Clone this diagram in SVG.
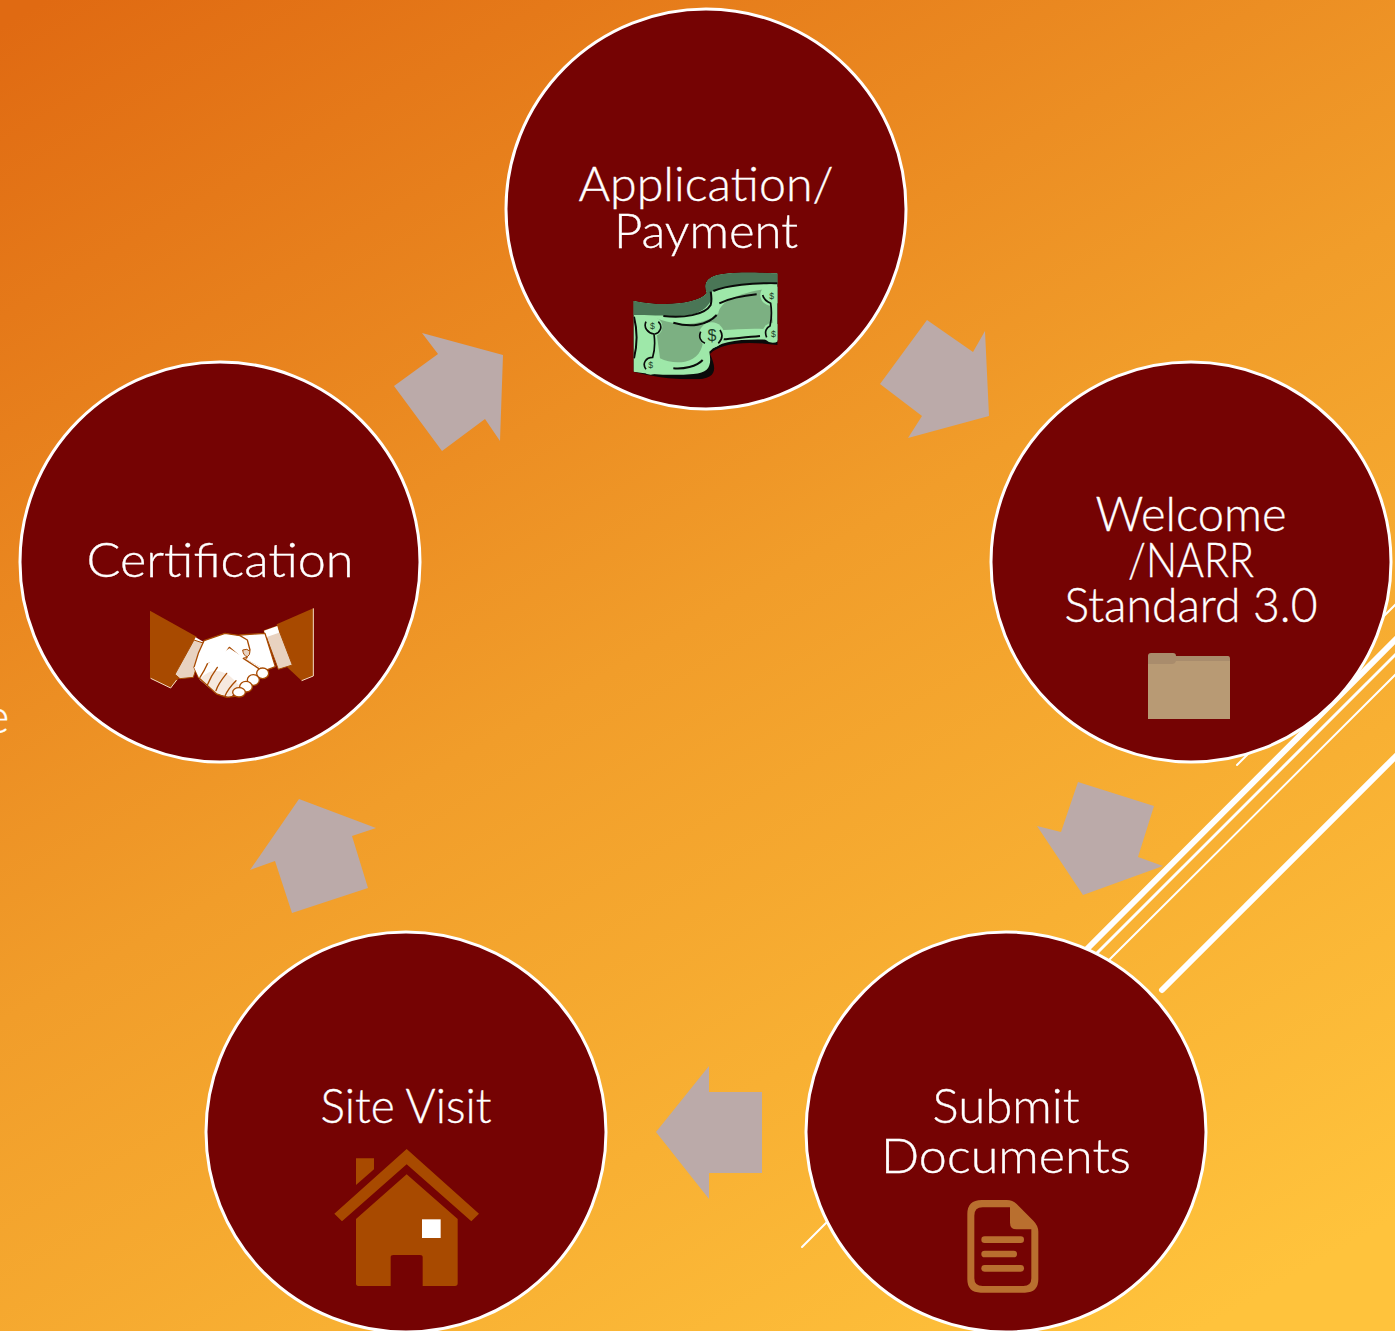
<svg xmlns="http://www.w3.org/2000/svg" width="1395" height="1331" viewBox="0 0 1395 1331">
<defs>
<linearGradient id="bg" gradientUnits="userSpaceOnUse" x1="220" y1="-100" x2="1080" y2="1400">
<stop offset="0" stop-color="#e06a12"/><stop offset="0.5" stop-color="#f19d2a"/><stop offset="1" stop-color="#ffc33c"/>
</linearGradient>
<clipPath id="billclip"><path d="M70 152C150 170 260 165 290 130C270 70 330 62 503 70L503 285C400 272 330 280 300 312C322 360 320 388 250 388C180 388 120 378 70 365Z"/></clipPath>
</defs>
<style>
.c{fill:#750303;stroke:#fff;stroke-width:3}
.t{fill:#fff;stroke:#fff;stroke-width:.35;font-family:"Lato","Open Sans","Liberation Sans",sans-serif;font-weight:300;font-size:47px;text-anchor:middle}
.a{fill:#bbaaa9}
.l{stroke:#fff;fill:none;stroke-linecap:round}
.d{font-family:"Liberation Sans",sans-serif;fill:#1d3d28;text-anchor:middle}
.o{fill:#a84a00}
.h{fill:#fff;stroke:#a84a00;stroke-width:4;stroke-linejoin:round}
.s{fill:none;stroke:#a84a00;stroke-width:4;stroke-linecap:round}
</style>
<rect width="1395" height="1331" fill="url(#bg)"/>
<g id="background-lines">
<path class="l" stroke-width="6" d="M1087 949L1397 638"/>
<path class="l" stroke-width="3" d="M1097 953L1397 653"/>
<path class="l" stroke-width="2" d="M1109 960L1397 673"/>
<path class="l" stroke-width="6" d="M1162 990L1397 755"/>
<path class="l" stroke-width="2" d="M1237 765L1250 752"/>
<path class="l" stroke-width="2" d="M1384 616L1397 603"/>
<path class="l" stroke-width="2" d="M802 1247L828 1221"/>
</g>
<text class="t" x="-3" y="733">e</text>
<g id="connectors">
<polygon class="a" points="422,333 503,355 500,441 485,419 442,451 394,386 438,354"/>
<polygon class="a" points="927,320 973,352 985,331 989,416 908,438 922,416 880,384"/>
<polygon class="a" points="1078,782 1154,806 1138,857 1163,866 1083,895 1037,826 1061,832"/>
<polygon class="a" points="762,1092 709,1092 709,1066 656,1132 709,1199 709,1173 762,1173"/>
<polygon class="a" points="299,799 376,828 352,836 368,888 292,913 275,861 250,870"/>
</g>
<g id="node-application">
<circle class="c" cx="706" cy="209" r="200"/>
<text class="t" x="706" y="201" textLength="255" lengthAdjust="spacingAndGlyphs">Application/</text>
<text class="t" x="706" y="248" textLength="184" lengthAdjust="spacingAndGlyphs">Payment</text>
<g transform="translate(610 250) scale(.33333)" clip-path="url(#billclip)">
<rect x="60" y="60" width="450" height="340" fill="#0a0a0a"/>
<path fill="#9ee8a9" d="M70 152C150 170 260 165 290 130C270 70 330 62 503 70L503 270C400 265 330 270 298 305C305 345 300 368 250 372C180 378 120 372 70 365Z"/>
<path fill="#7cb082" d="M140 205C190 225 270 235 325 190C330 150 400 125 480 115L490 240C430 232 380 240 340 240L280 265C280 300 260 330 225 335C200 340 170 335 150 325L140 250Z"/>
<path fill="#4a7656" d="M70 152C150 170 260 165 290 130C270 70 330 62 503 70L503 98C420 100 340 108 305 125C312 165 270 198 210 198C160 198 110 195 70 195Z"/>
<path fill="none" stroke="#0a0a0a" stroke-width="6" d="M310 123C350 105 430 98 503 100M160 198C220 205 285 195 302 165C306 150 304 135 302 125M190 218C240 232 290 228 320 195M328 160C360 145 400 137 440 133M340 268C370 265 410 262 450 258M190 355C220 358 260 350 278 330M72 200C82 240 82 285 72 325"/>
<g fill="#9ee8a9">
<circle cx="127" cy="230" r="30"/><circle cx="122" cy="344" r="30"/><circle cx="483" cy="135" r="32"/><circle cx="488" cy="248" r="30"/><circle cx="305" cy="255" r="38"/>
</g>
<path fill="none" stroke="#0a0a0a" stroke-width="5" d="M108 215C100 232 112 248 132 252C135 275 135 300 128 322C108 322 95 340 108 358M145 215C160 230 150 248 135 252M458 135C462 150 470 155 482 160C486 185 484 210 480 228C470 232 462 245 470 262M272 245C265 262 272 275 285 280M330 240C340 255 335 270 325 280"/>
<text class="d" x="127" y="238" font-size="26">$</text><text class="d" x="122" y="353" font-size="26">$</text><text class="d" x="485" y="147" font-size="26">$</text><text class="d" x="490" y="260" font-size="26">$</text><text class="d" x="306" y="272" font-size="48">$</text>
</g>
</g>
<g id="node-welcome">
<circle class="c" cx="1191" cy="562" r="200"/>
<text class="t" x="1191" y="531" textLength="191" lengthAdjust="spacingAndGlyphs">Welcome</text>
<text class="t" x="1191" y="577" textLength="126" lengthAdjust="spacingAndGlyphs">/NARR</text>
<text class="t" x="1191" y="622" textLength="253" lengthAdjust="spacingAndGlyphs">Standard 3.0</text>
<path fill="#a98c6c" d="M1148 656Q1148 653 1151 653L1173 653Q1176 653 1176 656L1228 656Q1230 656 1230 659L1230 668L1148 668Z"/>
<path fill="#b89a74" d="M1148 664L1172 664Q1175 664 1176 661L1230 661L1230 719L1148 719Z"/>
</g>
<g id="node-submit">
<circle class="c" cx="1006" cy="1132" r="200"/>
<text class="t" x="1006" y="1123" textLength="147" lengthAdjust="spacingAndGlyphs">Submit</text>
<text class="t" x="1006" y="1173" textLength="250" lengthAdjust="spacingAndGlyphs">Documents</text>
<g transform="translate(790 1190) scale(.33333)" fill="#b96f2f">
<path fill-rule="evenodd" d="M575 30L650 30Q668 30 680 42L730 92Q745 107 745 125L745 268Q745 308 705 308L572 308Q532 308 532 268L532 72Q532 30 575 30ZM578 52Q553 52 553 77L553 265Q553 288 578 288L700 288Q724 288 724 265L724 118L680 118Q660 118 660 98L660 52Z"/>
<rect x="574" y="139" width="128" height="20" rx="10"/>
<rect x="574" y="182" width="107" height="20" rx="10"/>
<rect x="574" y="225" width="128" height="20" rx="10"/>
</g>
</g>
<g id="node-site-visit">
<circle class="c" cx="406" cy="1132" r="200"/>
<text class="t" x="406" y="1123" textLength="171" lengthAdjust="spacingAndGlyphs">Site Visit</text>
<g transform="translate(320 1140) scale(.33333)">
<path class="o" d="M108 55L162 55L162 88L108 135Z"/>
<path class="o" d="M260 27L477 221L454 244L260 73L66 244L43 221Z"/>
<path class="o" d="M260 103L413 237L413 430Q413 438 405 438L308 438L308 352Q308 345 300 345L220 345Q212 345 212 352L212 438L115 438Q108 438 108 430L108 237Z"/>
<rect x="306" y="238" width="56" height="56" fill="#fff"/>
</g>
</g>
<g id="node-certification">
<circle class="c" cx="220" cy="562" r="200"/>
<text class="t" x="220" y="577" textLength="267" lengthAdjust="spacingAndGlyphs">Certification</text>
<g transform="translate(130 590) scale(.33333)">
<path class="o" d="M60 62L200 140L150 262L122 293L60 265Z"/>
<path class="o" d="M550 55L440 103L470 230L515 272L550 258Z"/>
<path fill="none" stroke="#f4dcc4" stroke-width="3" d="M62 265L122 294L140 270M515 272L550 258L550 55"/>
<path fill="#fff" d="M197 142L220 155L205 170L190 155Z"/>
<path fill="#e8d2c0" stroke="#a84a00" stroke-width="3" d="M192 150L222 160L190 262L150 266L135 253Z"/>
<path fill="#e8d2c0" stroke="#a84a00" stroke-width="3" d="M402 122L442 108L487 225L445 238Z"/>
<path fill="#fff" d="M402 122L442 108L447 128L408 142Z"/>
<path class="h" d="M330 135L405 130L436 230L405 242L340 205L295 175Z"/>
<path class="h" d="M222 152L285 130L330 137L352 150L360 180L350 204L335 204L298 172C280 205 250 218 232 222L205 262L192 232L205 190Z"/>
<path fill="#fff" d="M192 232L232 222L298 175L345 205L405 240L300 322L260 312L210 270Z"/>
<path fill="#f6e9df" d="M210 268C240 232 280 238 310 268L338 298L300 320L262 310Z"/>
<path class="s" d="M208 265L260 312L290 322L320 318M232 222C225 238 218 250 210 262M262 232C245 255 238 270 232 285M290 250C272 272 262 288 258 302M318 272C300 290 290 305 285 318M340 205L390 238"/>
<path fill="#e8d2c0" stroke="#a84a00" stroke-width="3" d="M338 180Q352 174 360 184Q360 196 352 200Q340 198 338 180Z"/>
<g class="h"><ellipse cx="398" cy="250" rx="18" ry="16"/><ellipse cx="370" cy="270" rx="18" ry="16"/><ellipse cx="348" cy="290" rx="19" ry="16"/><ellipse cx="327" cy="307" rx="19" ry="14"/></g>
</g>
</g>
</svg>
